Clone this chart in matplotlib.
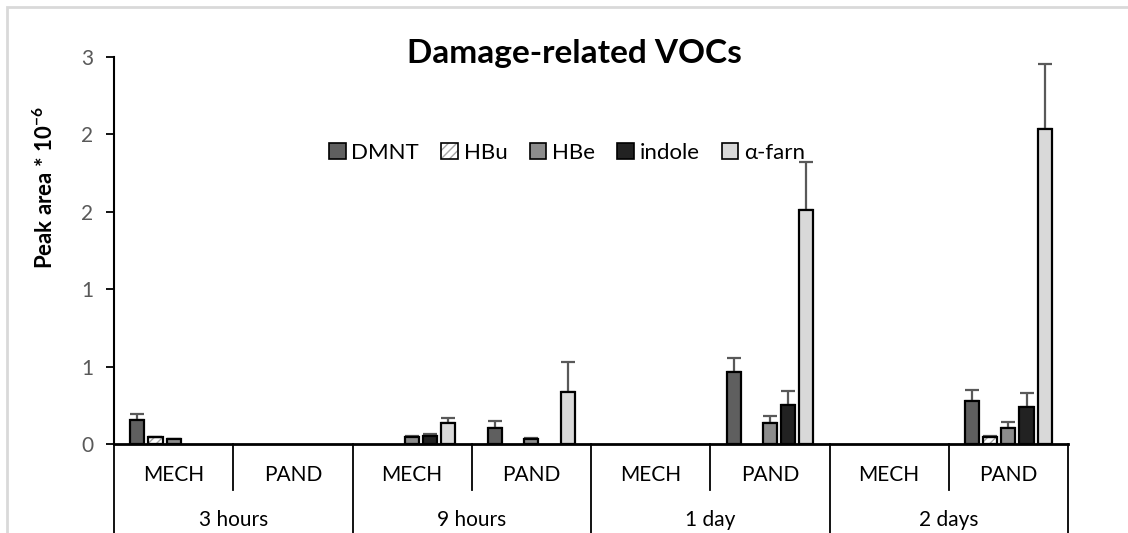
import numpy as np
import matplotlib
matplotlib.use("Agg")
import matplotlib.pyplot as plt
from matplotlib.patches import Patch, Rectangle

plt.rcParams['font.family'] = ['Lato', 'DejaVu Sans']
plt.rcParams['mathtext.fontset'] = 'custom'
plt.rcParams['mathtext.rm'] = 'Lato'
plt.rcParams['mathtext.bf'] = 'Lato:bold'

groups = ['3 hours', '9 hours', '1 day', '2 days']
treatments = ['MECH', 'PAND']

series = ['DMNT', 'HBu', 'HBe', 'indole', 'α-farn']
DMNT = [0.155, 0, 0, 0.105, 0, 0.463, 0, 0.278]
DMNT_err = [0.036, 0, 0, 0.045, 0, 0.094, 0, 0.071]
HBu = [0.043, 0, 0, 0, 0, 0, 0, 0.047]
HBu_err = [0.003, 0, 0, 0, 0, 0, 0, 0.004]
HBe = [0.032, 0, 0.043, 0.032, 0, 0.134, 0, 0.101]
HBe_err = [0.002, 0, 0.010, 0.008, 0, 0.047, 0, 0.043]
indole = [0, 0, 0.050, 0, 0, 0.252, 0, 0.237]
indole_err = [0, 0, 0.012, 0, 0, 0.092, 0, 0.090]
farn = [0, 0, 0.134, 0.338, 0, 1.512, 0, 2.033]
farn_err = [0, 0, 0.036, 0.194, 0, 0.308, 0, 0.420]

values = [DMNT, HBu, HBe, indole, farn]
errors = [DMNT_err, HBu_err, HBe_err, indole_err, farn_err]
colors = ['#5f5f5f', 'white', '#8c8c8c', '#222222', '#d9d9d9']

fig = plt.figure(figsize=(11.28, 5.33), dpi=100)
W, H = 1128, 533
ax = fig.add_axes([114 / W, 1 - 444 / H, (1068 - 114) / W, (444 - 57) / H])

x = np.arange(len(groups) * len(treatments))
step = 0.152
width = 0.118
handles = []
for i, (name, v, e, c) in enumerate(zip(series, values, errors, colors)):
    pos = x + (i - 2) * step
    v = np.array(v)
    e = np.array(e)
    nz = v > 0
    if name == 'HBu':
        ax.bar(pos[nz], v[nz], width, color='white', edgecolor='#a6a6a6', hatch='////',
               linewidth=0, zorder=2)
        ax.bar(pos[nz], v[nz], width, fill=False, edgecolor='black', linewidth=1.6, zorder=3)
        h = (Patch(facecolor='white', edgecolor='#a6a6a6', hatch='////', linewidth=0),
             Patch(fill=False, edgecolor='black', linewidth=1.2))
    else:
        ax.bar(pos[nz], v[nz], width, color=c, edgecolor='black', linewidth=1.6, zorder=3)
        h = Patch(facecolor=c, edgecolor='black', linewidth=1.2)
    handles.append(h)
    m = e > 0
    ax.errorbar(pos[m], v[m], yerr=[np.zeros(m.sum()), e[m]], fmt='none',
                ecolor='#595959', elinewidth=1.6, capsize=5, capthick=1.6, zorder=2)

ax.set_xlim(-0.5, 7.5)
ax.set_ylim(0, 2.5)
ax.set_yticks([0, 0.5, 1.0, 1.5, 2.0, 2.5])
ax.set_yticklabels(['0', '1', '1', '2', '2', '3'])
ax.tick_params(axis='y', direction='out', length=6, width=1.3, color='black',
               labelcolor='#595959', labelsize=15, pad=9)
ax.tick_params(axis='x', bottom=False, labelbottom=False)
for s in ['top', 'right']:
    ax.spines[s].set_visible(False)
ax.spines['left'].set_linewidth(1.5)
ax.spines['bottom'].set_linewidth(2)
ax.spines['left'].set_zorder(5)
ax.spines['bottom'].set_zorder(5)

# hierarchical category axis
tr = ax.get_xaxis_transform()
for k in range(len(x)):
    ax.text(x[k], -0.080, treatments[k % 2], transform=tr, ha='center', va='center',
            fontsize=15, color='black')
for g, name in enumerate(groups):
    ax.text(2 * g + 0.5, -0.196, name, transform=tr, ha='center', va='center',
            fontsize=15, color='black')
for b in np.arange(-0.5, 8, 1.0):
    outer = int(round(b + 0.5)) % 2 == 0
    ax.plot([b, b], [0, -0.24 if outer else -0.119], transform=tr, color='black',
            linewidth=1.3, clip_on=False, zorder=4)

fig.text(574 / W, 1 - 53 / H, 'Damage-related VOCs', ha='center', va='center',
         fontsize=24, fontweight='bold')
fig.text(45 / W, 1 - 188 / H, r'Peak area * 10$^{\mathbf{-6}}$', ha='center', va='center',
         rotation=90, fontsize=16, fontweight='bold')

fig.legend(handles, series, loc='center', bbox_to_anchor=(567 / W, 1 - 153 / H),
           ncol=5, frameon=False, fontsize=16, handlelength=0.75, handleheight=0.75,
           handletextpad=0.25, columnspacing=1.0, borderaxespad=0)

fig.add_artist(Rectangle((7 / W, -0.1), 1.2, (H - 7) / H + 0.1, transform=fig.transFigure,
                         fill=False, edgecolor='#d9d9d9', linewidth=2))

fig.savefig('out.png', dpi=100)
